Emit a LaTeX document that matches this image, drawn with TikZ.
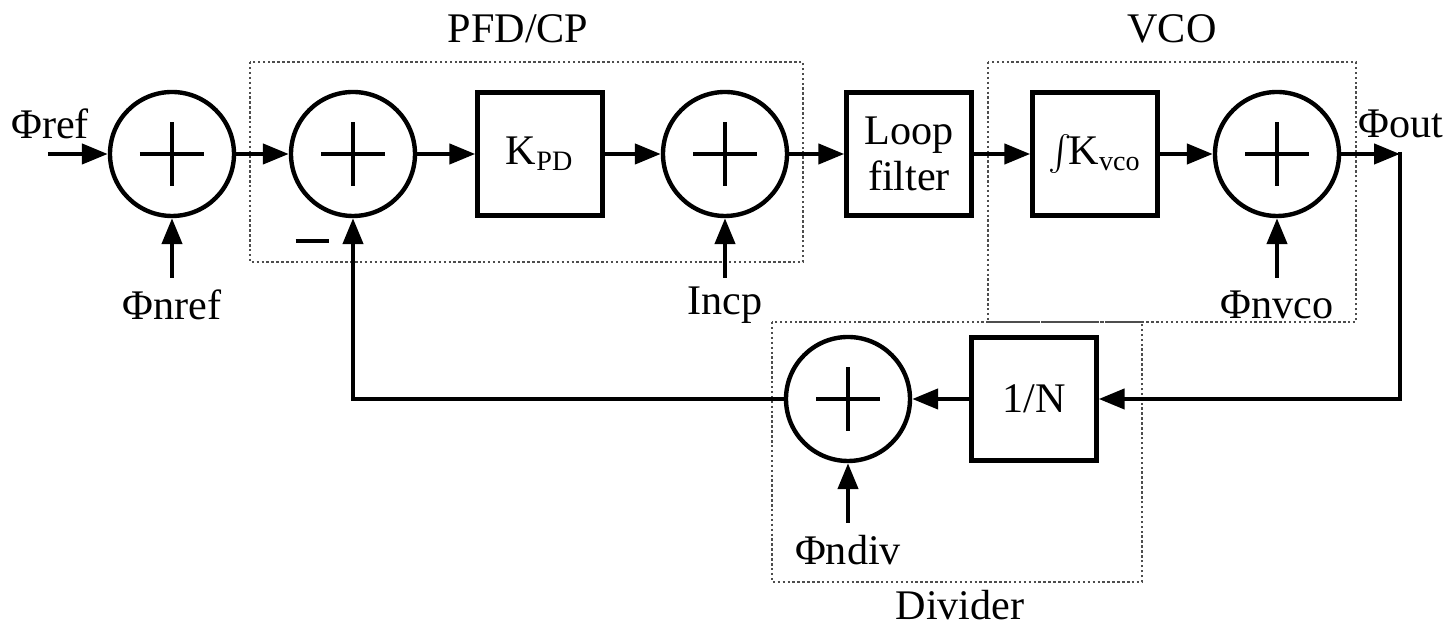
\documentclass[tikz,border=0pt]{standalone}
\usepackage{fontspec}
\setmainfont{Liberation Serif}
\usetikzlibrary{arrows.meta}
\definecolor{PLLDot}{HTML}{4D4D4D}

\tikzset{
  sumnode/.style={circle,draw,line width=1.25pt,minimum size=1.24cm,inner sep=0pt,
    path picture={\draw[line width=0.95pt]
      (path picture bounding box.center) ++(-0.32,0) -- ++(0.64,0)
      (path picture bounding box.center) ++(0,-0.32) -- ++(0,0.64);}},
  blockbox/.style={draw,line width=1.25pt,minimum width=1.25cm,minimum height=1.23cm,
    align=center,inner sep=0pt},
  sig/.style={line width=1.25pt,-{Triangle[length=0.26cm,width=0.2cm]}},
  groupbox/.style={PLLDot,line width=0.55pt,dash pattern=on 0.7pt off 0.7pt},
  lbl/.style={inner sep=0pt}
}

\begin{document}
\begin{tikzpicture}[x=1cm,y=1cm,font=\fontsize{12}{13}\selectfont]
\path[use as bounding box] (0,0) rectangle (14.45,6.27);
% dotted groups
\draw[groupbox] (2.50,5.65) rectangle (8.03,3.65);
\draw[groupbox] (9.88,5.65) rectangle (13.56,3.05);
\draw[groupbox] (7.72,3.05) rectangle (11.42,0.45);
\node[lbl] (pfdlabel) at (5.18,5.98) {PFD/CP};
\node[lbl] (vcolabel) at (11.72,5.98) {VCO};
\node[lbl] (divlabel) at (9.60,0.22) {Divider};
% forward path
\node[sumnode] (sref) at (1.72,4.73) {};
\node[sumnode] (spfd) at (3.53,4.73) {};
\node[blockbox] (kpd) at (5.40,4.73) {K\textsubscript{PD}};
\node[sumnode] (scp) at (7.25,4.73) {};
\node[blockbox] (lf) at (9.09,4.73) {Loop\\filter};
\node[blockbox] (kvco) at (10.95,4.73) {$\int$\kern-1pt K\textsubscript{vco}};
\node[sumnode] (svco) at (12.77,4.73) {};
% feedback path
\node[blockbox] (divn) at (10.34,2.28) {1/N};
\node[sumnode] (sdiv) at (8.48,2.28) {};
% noise inputs
\coordinate (refin) at (0.48,4.73);
\coordinate (nrefin) at (1.72,3.49);
\coordinate (ncpin) at (7.25,3.49);
\coordinate (nvcoin) at (12.77,3.49);
\coordinate (ndivin) at (8.48,1.04);
\coordinate (outc) at (14.00,4.73);
\node[lbl] (refl) at (0.50,5.03) {Φref};
\node[lbl] (nrefl) at (1.72,3.22) {Φnref};
\node[lbl] (ncpl) at (7.25,3.22) {Incp};
\node[lbl] (nvcol) at (12.77,3.22) {Φnvco};
\node[lbl] (ndivl) at (8.48,0.77) {Φndiv};
\node[lbl] (outl) at (14.01,5.03) {Φout};
\node[lbl] (minus) at (3.12,3.86) {\rule{0.33cm}{1.3pt}};
% connections
\draw[sig] (refin) -- (sref);
\draw[sig] (sref) -- (spfd);
\draw[sig] (spfd) -- (kpd);
\draw[sig] (kpd) -- (scp);
\draw[sig] (scp) -- (lf);
\draw[sig] (lf) -- (kvco);
\draw[sig] (kvco) -- (svco);
\draw[sig] (svco) -- (outc);
\draw[sig] (nrefin) -- (sref);
\draw[sig] (ncpin) -- (scp);
\draw[sig] (nvcoin) -- (svco);
\draw[sig] (ndivin) -- (sdiv);
\draw[sig] ([yshift=0.6pt]outc) |- (divn);
\draw[sig] (divn) -- (sdiv);
\draw[sig] (sdiv) -| (spfd);
\end{tikzpicture}
\end{document}
